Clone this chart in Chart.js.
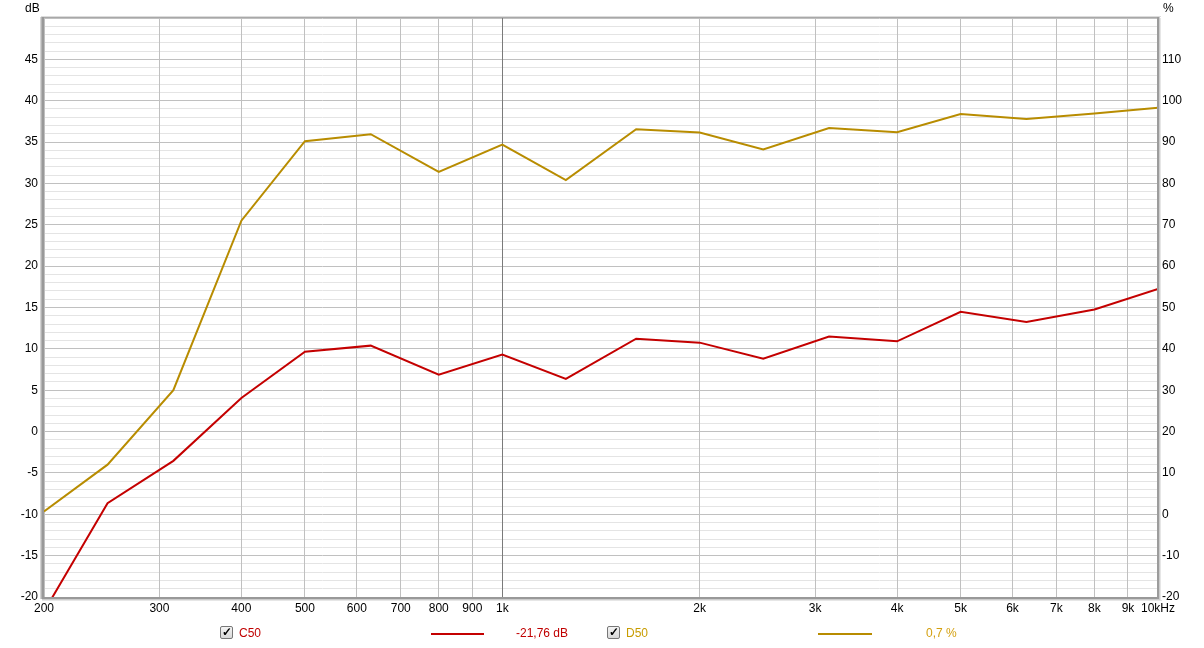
<!DOCTYPE html>
<html>
<head>
<meta charset="utf-8">
<script src="https://cdn.jsdelivr.net/npm/chart.js@4/dist/chart.umd.min.js"></script>
<style>
  body { margin: 0; background: #fff; font-family: "Liberation Sans", Arial, sans-serif; }
  #wrap { position: relative; width: 1204px; height: 648px; }
  #chart { position: absolute; left: 0; top: 0; }
  .lbl { position: absolute; font-size: 12px; white-space: nowrap; line-height: 14px; }
  .unit { position: absolute; font-size: 12px; color: #000; line-height: 14px; }
  .box { position: absolute; width: 11px; height: 11px; border: 1px solid #777; border-radius: 2px;
         background: linear-gradient(#f4f4f4, #d8d8d8); font-size: 12px; line-height: 11px;
         text-align: center; color: #000; font-weight: bold; }
  .swatch { position: absolute; height: 2px; }
</style>
</head>
<body>
<div id="wrap">
  <canvas id="chart" width="1204" height="648"></canvas>
  <div class="unit" style="left:25px; top:1px;">dB</div>
  <div class="unit" style="left:1163px; top:1px;">%</div>

  <div class="box" style="left:220px; top:626px;">✓</div>
  <div class="lbl" style="left:239px; top:626px; color:#c00000;">C50</div>
  <div class="swatch" style="left:431px; top:633px; width:53px; background:#c40000;"></div>
  <div class="lbl" style="left:516px; top:626px; color:#c00000;">-21,76 dB</div>

  <div class="box" style="left:607px; top:626px;">✓</div>
  <div class="lbl" style="left:626px; top:626px; color:#c89c00;">D50</div>
  <div class="swatch" style="left:818px; top:633px; width:54px; background:#b88c00;"></div>
  <div class="lbl" style="left:926px; top:626px; color:#d4a010;">0,7 %</div>
</div>
<script>
// third-octave frequencies (Hz)
const freqs = [200, 250, 315, 400, 500, 630, 800, 1000, 1250, 1600, 2000, 2500, 3150, 4000, 5000, 6300, 8000, 10000];

// C50 in dB (left axis)
const c50 = [-21.76, -8.66, -3.54, 4.06, 9.66, 10.39, 6.88, 9.30, 6.36, 11.23, 10.75, 8.81, 11.48, 10.91, 14.47, 13.26, 14.75, 17.25];

// D50 in % (right axis)
const d50 = [0.7, 12.0, 30.0, 71.0, 90.2, 91.9, 82.8, 89.4, 80.8, 93.1, 92.3, 88.2, 93.4, 92.4, 96.8, 95.6, 96.9, 98.3];

const xTicks = [200, 300, 400, 500, 600, 700, 800, 900, 1000, 2000, 3000, 4000, 5000, 6000, 7000, 8000, 9000, 10000];

function freqLabel(v) {
  if (v === 10000) return '10kHz';
  if (v >= 1000) return (v / 1000) + 'k';
  return String(v);
}

const tickFont = { family: '"Liberation Sans", Arial, sans-serif', size: 12 };

// grey 3D-ish frame round the plot area
const framePlugin = {
  id: 'frame',
  afterDraw(chart) {
    const { ctx, chartArea: a } = chart;
    ctx.save();
    // top
    ctx.fillStyle = '#dcdcdc'; ctx.fillRect(a.left - 3, a.top - 2, a.right - a.left + 6, 1);
    ctx.fillStyle = '#a8a8a8'; ctx.fillRect(a.left - 2, a.top - 1, a.right - a.left + 3, 1);
    // left
    ctx.fillStyle = '#d4d4d4'; ctx.fillRect(a.left - 4, a.top - 1, 1, a.bottom - a.top + 3);
    ctx.fillStyle = '#b4b4b4'; ctx.fillRect(a.left - 3, a.top - 1, 1, a.bottom - a.top + 3);
    ctx.fillStyle = '#999999'; ctx.fillRect(a.left - 2, a.top - 1, 2, a.bottom - a.top + 3);
    // bottom
    ctx.fillStyle = '#999999'; ctx.fillRect(a.left - 2, a.bottom, a.right - a.left + 3, 2);
    ctx.fillStyle = '#cccccc'; ctx.fillRect(a.left - 2, a.bottom + 2, a.right - a.left + 5, 1);
    ctx.fillStyle = '#e6e6e6'; ctx.fillRect(a.left - 2, a.bottom + 3, a.right - a.left + 6, 1);
    // right
    ctx.fillStyle = '#9c9c9c'; ctx.fillRect(a.right - 1, a.top - 1, 2, a.bottom - a.top + 3);
    ctx.fillStyle = '#cccccc'; ctx.fillRect(a.right + 1, a.top - 1, 1, a.bottom - a.top + 4);
    ctx.fillStyle = '#e6e6e6'; ctx.fillRect(a.right + 2, a.top, 1, a.bottom - a.top + 4);
    ctx.restore();
  }
};

new Chart(document.getElementById('chart').getContext('2d'), {
  type: 'line',
  data: {
    datasets: [
      {
        label: 'C50',
        data: freqs.map((f, i) => ({ x: f, y: c50[i] })),
        borderColor: '#c40000',
        borderWidth: 2,
        pointRadius: 0,
        yAxisID: 'y'
      },
      {
        label: 'D50',
        data: freqs.map((f, i) => ({ x: f, y: d50[i] })),
        borderColor: '#b88c00',
        borderWidth: 2,
        pointRadius: 0,
        yAxisID: 'y1'
      }
    ]
  },
  options: {
    responsive: false,
    animation: false,
    layout: { padding: { top: 18, left: 0, right: 0, bottom: 0 } },
    plugins: { legend: { display: false }, tooltip: { enabled: false } },
    scales: {
      x: {
        type: 'logarithmic',
        min: 200,
        max: 10000,
        afterBuildTicks: s => { s.ticks = xTicks.map(v => ({ value: v })); },
        afterFit: s => { s.height = 51; },
        ticks: {
          autoSkip: false,
          maxRotation: 0,
          padding: 4,
          color: '#000',
          font: tickFont,
          callback: v => freqLabel(v)
        },
        grid: {
          z: -1,
          drawTicks: false,
          color: c => (c.tick && c.tick.value === 1000 ? '#7a7a7a' : '#c0c0c0')
        },
        border: { display: false }
      },
      y: {
        position: 'left',
        min: -20,
        max: 50,
        afterFit: s => { s.width = 44; },
        ticks: {
          stepSize: 1,
          autoSkip: false,
          padding: 6,
          color: '#000',
          font: tickFont,
          callback: v => (v % 5 === 0 && v !== 50 ? v : '')
        },
        grid: {
          z: -2,
          drawTicks: false,
          color: c => (c.tick.value % 5 === 0 ? '#c0c0c0' : '#e4e4e4')
        },
        border: { display: false }
      },
      y1: {
        position: 'right',
        min: -20,
        max: 120,
        afterFit: s => { s.width = 46; },
        ticks: {
          stepSize: 10,
          autoSkip: false,
          padding: 4,
          color: '#000',
          font: tickFont,
          callback: v => (v !== 120 ? v : '')
        },
        grid: { drawOnChartArea: false, drawTicks: false },
        border: { display: false }
      }
    }
  },
  plugins: [framePlugin]
});
</script>
</body>
</html>
